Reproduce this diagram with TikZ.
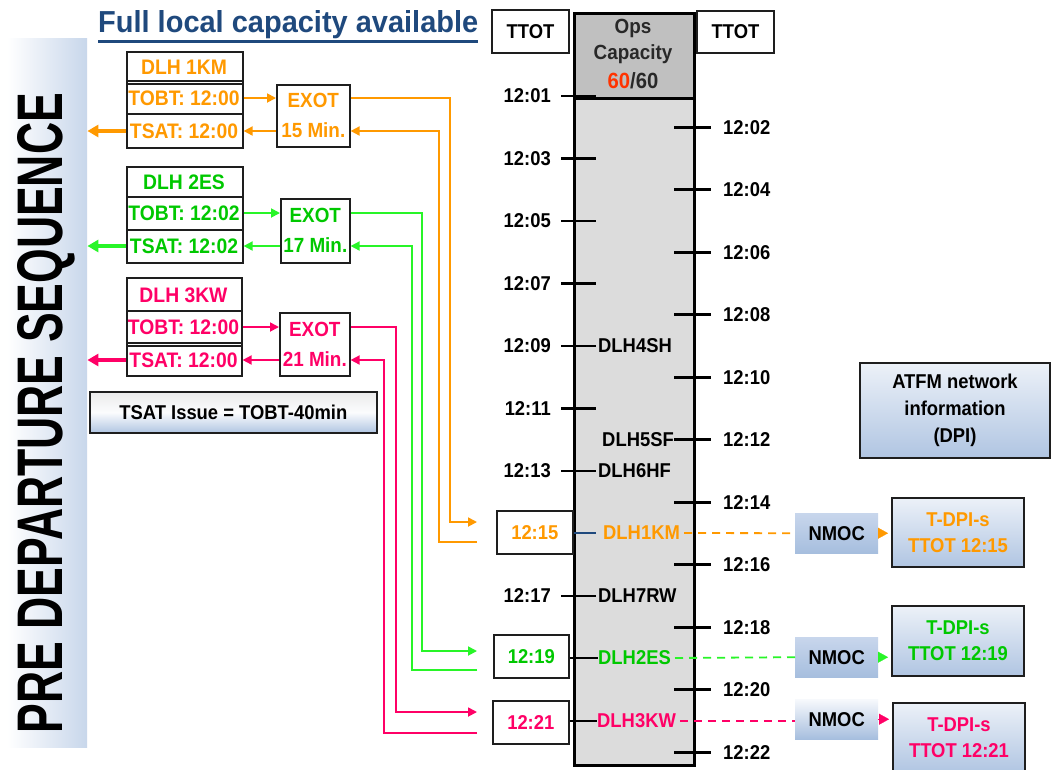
\documentclass[tikz,border=0pt]{standalone}
\usepackage{fontspec}
\setmainfont{Liberation Sans}[FakeStretch=0.92]
\usetikzlibrary{arrows.meta,calc}
\definecolor{ocol}{RGB}{255,153,0}
\definecolor{gtext}{RGB}{0,200,0}
\definecolor{gline}{RGB}{40,245,40}
\definecolor{pcol}{RGB}{255,0,102}
\definecolor{titleblue}{RGB}{31,73,125}
\definecolor{red60}{RGB}{255,51,0}
\definecolor{bannerB}{RGB}{176,197,226}
\definecolor{colgray}{RGB}{220,220,220}
\definecolor{hdrgray}{RGB}{192,192,192}
\definecolor{nmtop}{RGB}{200,214,236}
\definecolor{nmbot}{RGB}{166,190,222}
\definecolor{tdtop}{RGB}{236,241,248}
\definecolor{tdbot}{RGB}{176,197,226}
\definecolor{framec}{RGB}{30,30,30}
\definecolor{opstext}{RGB}{40,40,40}
\newcommand\fs{\fontsize{20}{26}\selectfont\bfseries}
\newcommand\fsx{\fontsize{20.5}{30}\selectfont\bfseries}
\newcommand\fsb{\fontsize{21}{26}\selectfont\bfseries}
\newcommand\fsops{\fontsize{20.5}{26}\selectfont\bfseries}
\begin{document}
\begin{tikzpicture}[x=1pt,y=-1pt,
  txt/.style={font=\fs, inner sep=0pt},
  frame/.style={draw=framec, line width=1.6pt, inner sep=0pt, anchor=north west},
  exotbox/.style={frame, align=center, font=\fsx},
  tick/.style={line width=2.8pt, black},
  sarrow/.style={line width=1.8pt, -{Triangle[length=9pt,width=9pt]}},
  bigarrow/.style={line width=3.5pt, -{Triangle[length=11pt,width=12pt]}},
  longline/.style={line width=1.8pt},
  dline/.style={line width=1.8pt, dash pattern=on 8pt off 6pt},
  nmoc/.style={anchor=north west, minimum width=83pt, minimum height=40pt, inner sep=0pt, top color=nmtop, bottom color=nmbot, font=\fs},
  tip/.style={line width=0.2pt, -{Triangle[length=10pt,width=11pt]}, shorten >=3pt}
]
\useasboundingbox (0,0) rectangle (1051,769);
\fill[white] (0,0) rectangle (1051,769);

% banner
\node[anchor=north west, minimum width=80pt, minimum height=709pt, inner sep=0pt,
  left color=white, middle color=bannerB, right color=bannerB!70!white] (banner) at (7,38) {};
\node[rotate=90, inner sep=0pt] (pds) at (46,413) {\resizebox{640pt}{45pt}{\bfseries PRE DEPARTURE SEQUENCE}};

% title
\node[anchor=base west, inner sep=0pt, text=titleblue] (title) at (98,32) {\resizebox{380pt}{22pt}{\bfseries Full local capacity available}};
\draw[titleblue, line width=2.5pt] ([yshift=-3pt]title.south west) -- ([yshift=-3pt]title.south east);

% ---- block 1 (DLH 1KM)
\node[frame, minimum width=116pt, minimum height=96pt] (blk1) at (126,51) {};
\draw[framec, line width=1.2pt] (126,81) -- (242,81) (126,84) -- (242,84);
\draw[framec, line width=2.4pt] (126,114) -- (242,114);
\node[txt, text=ocol, font=\fsb] (hdr1) at (184,67) {DLH 1KM};
\node[txt, text=ocol, font=\fsb] (tobt1) at (184,98) {TOBT: 12:00};
\node[txt, text=ocol, font=\fsb] (tsat1) at (184,131) {TSAT: 12:00};
\node[exotbox, text=ocol, minimum width=73pt, minimum height=62pt] (exot1) at (276,84) {EXOT\\15 Min.};
\draw[ocol, sarrow] (blk1.east |- tobt1) -- (exot1.west |- tobt1);
\draw[ocol, sarrow] (exot1.west |- tsat1) -- (blk1.east |- tsat1);
\draw[ocol, bigarrow] (blk1.west |- tsat1) -- (banner.east |- tsat1);

% ---- block 2 (DLH 2ES)
\node[frame, minimum width=116pt, minimum height=96pt] (blk2) at (126,166) {};
\draw[framec, line width=2.4pt] (126,197) -- (242,197) (126,230) -- (242,230);
\node[txt, text=gtext, font=\fsb] (hdr2) at (184,182) {DLH 2ES};
\node[txt, text=gtext, font=\fsb] (tobt2) at (184,213) {TOBT: 12:02};
\node[txt, text=gtext, font=\fsb] (tsat2) at (184,246) {TSAT: 12:02};
\node[exotbox, text=gtext, minimum width=69pt, minimum height=64pt] (exot2) at (280,198) {EXOT\\17 Min.};
\draw[gline, sarrow] (blk2.east |- tobt2) -- (exot2.west |- tobt2);
\draw[gline, sarrow] (exot2.west |- tsat2) -- (blk2.east |- tsat2);
\draw[gline, bigarrow] (blk2.west |- tsat2) -- (banner.east |- tsat2);

% ---- block 3 (DLH 3KW)
\node[frame, minimum width=115pt, minimum height=98pt] (blk3) at (126,277) {};
\draw[framec, line width=2.4pt] (126,311) -- (241,311);
\draw[framec, line width=1.2pt] (126,343) -- (241,343) (126,346) -- (241,346);
\node[txt, text=pcol, font=\fsb] (hdr3) at (183.5,295) {DLH 3KW};
\node[txt, text=pcol, font=\fsb] (tobt3) at (183.5,327) {TOBT: 12:00};
\node[txt, text=pcol, font=\fsb] (tsat3) at (183.5,360) {TSAT: 12:00};
\node[exotbox, text=pcol, minimum width=70pt, minimum height=63pt] (exot3) at (279,312) {EXOT\\21 Min.};
\draw[pcol, sarrow] (blk3.east |- tobt3) -- (exot3.west |- tobt3);
\draw[pcol, sarrow] (exot3.west |- tsat3) -- (blk3.east |- tsat3);
\draw[pcol, bigarrow] (blk3.west |- tsat3) -- (banner.east |- tsat3);

% TSAT issue
\node[frame, top color=white!92!black, bottom color=bannerB, middle color=white!95!bannerB, minimum width=287pt, minimum height=41pt, font=\fs] (issue) at (89,391) {TSAT Issue = TOBT-40min};

% ---- column
\node[anchor=north west, draw=black, line width=2.6pt, fill=colgray, minimum width=120pt, minimum height=667pt, inner sep=0pt] (col) at (573,97) {};
\node[anchor=north west, draw=black, line width=2.6pt, fill=hdrgray, minimum width=120pt, minimum height=85pt, inner sep=0pt] (ops) at (573,12) {};
\node[inner sep=0pt, anchor=base, font=\fsops, text=opstext] (ops1) at (633,33) {Ops};
\node[inner sep=0pt, anchor=base, font=\fsops, text=opstext] (ops2) at (633,59) {Capacity};
\node[inner sep=0pt, anchor=base, font=\fontsize{22}{26}\selectfont\bfseries, text=opstext] (ops3) at (633,88) {\textcolor{red60}{60}/60};

% TTOT boxes
\node[frame, line width=2pt, minimum width=77pt, minimum height=43pt, font=\fs] (ttotL) at (491,9) {TTOT};
\node[frame, line width=2pt, minimum width=77pt, minimum height=42pt, font=\fs] (ttotR) at (696,10) {TTOT};

% left ticks and labels
\foreach \n/\t in {1/01,3/03,5/05,7/07,9/09,11/11,13/13,17/17}{
  \draw[tick] (561,{96+31.25*(\n-1)}) -- (596,{96+31.25*(\n-1)});
  \node[txt, anchor=east] (L\t) at (551,{96+31.25*(\n-1)}) {12:\t};
}
% right ticks and labels
\foreach \n/\t in {2/02,4/04,6/06,8/08,10/10,12/12,14/14,16/16,18/18,20/20,22/22}{
  \draw[tick] (674,{96+31.25*(\n-1)}) -- (711,{96+31.25*(\n-1)});
  \node[txt, anchor=west] (R\t) at (723,{96+31.25*(\n-1)}) {12:\t};
}

% flight labels in the column
\node[txt, anchor=west] (f4sh) at (598,346) {DLH4SH};
\node[txt, anchor=east] (f5sf) at (674,440) {DLH5SF};
\node[txt, anchor=west] (f6hf) at (598,471) {DLH6HF};
\node[txt, anchor=west, text=ocol] (f1km) at (603,533) {DLH1KM};
\node[txt, anchor=west] (f7rw) at (598,596) {DLH7RW};
\node[txt, anchor=west, text=gtext] (f2es) at (598,658) {DLH2ES};
\node[txt, anchor=west, text=pcol] (f3kw) at (597,721) {DLH3KW};

% time boxes
\node[frame, minimum width=76pt, minimum height=43pt, font=\fs, text=ocol] (t15) at (496,510) {12:15};
\node[frame, minimum width=75pt, minimum height=43pt, font=\fs, text=gtext] (t19) at (493,634) {12:19};
\node[frame, minimum width=76pt, minimum height=43pt, font=\fs, text=pcol] (t21) at (492,700) {12:21};

\draw[titleblue, line width=2.8pt] (t15.east |- f1km) -- ([xshift=-7pt]f1km.west);
\draw[tick] (t19.east |- f2es) -- (f2es.west);
\draw[tick] (t21.east |- f3kw) -- (f3kw.west);

% connector end points
\coordinate (a15) at (477,522);
\coordinate (r15) at (477,542);
\coordinate (a19) at (477,651);
\coordinate (r19) at (477,670);
\coordinate (a21) at (477,712);
\coordinate (r21) at (477,733);
\coordinate (vo1) at (450,0);
\coordinate (vr1) at (439,0);
\coordinate (vo2) at (422,0);
\coordinate (vr2) at (412,0);
\coordinate (vo3) at (396,0);
\coordinate (vr3) at (384,0);

% long connectors
\draw[ocol, longline, -{Triangle[length=9pt,width=9pt]}] (exot1.east |- tobt1) -| (vo1 |- a15) -- (a15);
\draw[ocol, longline, -{Triangle[length=9pt,width=9pt]}] (r15) -| (vr1 |- tsat1) -- (exot1.east |- tsat1);
\draw[gline, longline, -{Triangle[length=9pt,width=9pt]}] (exot2.east |- tobt2) -| (vo2 |- a19) -- (a19);
\draw[gline, longline, -{Triangle[length=9pt,width=9pt]}] (r19) -| (vr2 |- tsat2) -- (exot2.east |- tsat2);
\draw[pcol, longline, -{Triangle[length=9pt,width=9pt]}] (exot3.east |- tobt3) -| (vo3 |- a21) -- (a21);
\draw[pcol, longline, -{Triangle[length=9pt,width=9pt]}] (r21) -| (vr3 |- tsat3) -- (exot3.east |- tsat3);

% ATFM
\node[frame, line width=2pt, top color=tdtop, bottom color=tdbot, minimum width=190pt, minimum height=95pt, align=center, font=\fontsize{20}{27}\selectfont\bfseries] (atfm) at (859,362) {ATFM network\\information\\(DPI)};

% NMOC boxes
\node[nmoc] (nmoc1) at (795,513) {NMOC};
\node[nmoc] (nmoc2) at (795,637) {NMOC};
\node[nmoc, top color=white!85!nmtop] (nmoc3) at (795,699) {NMOC};

% T-DPI boxes
\node[frame, line width=2pt, top color=tdtop, bottom color=tdbot, minimum width=132pt, minimum height=69pt, align=center, font=\fs, text=ocol] (tdpi1) at (891,497) {T-DPI-s\\TTOT 12:15};
\node[frame, line width=2pt, top color=tdtop, bottom color=tdbot, minimum width=132pt, minimum height=70pt, align=center, font=\fs, text=gtext] (tdpi2) at (891,605) {T-DPI-s\\TTOT 12:19};
\node[frame, line width=2pt, top color=tdtop, bottom color=tdbot, minimum width=132pt, minimum height=70pt, align=center, font=\fs, text=pcol] (tdpi3) at (892,702) {T-DPI-s\\TTOT 12:21};

% dashed links
\draw[ocol, dline, shorten <=4pt] (f1km.east) -- (nmoc1.west);
\draw[gline, dline, shorten <=4pt] (f2es.east) -- (nmoc2.west);
\draw[pcol, dline, shorten <=4pt] (f3kw.east) -- (nmoc3.west |- f3kw);
\draw[ocol, tip] (nmoc1.east) -- (tdpi1.west |- nmoc1);
\draw[gline, tip] (nmoc2.east) -- (tdpi2.west |- nmoc2);
\draw[pcol, tip] (nmoc3.east) -- (tdpi3.west |- nmoc3);
\end{tikzpicture}
\end{document}
